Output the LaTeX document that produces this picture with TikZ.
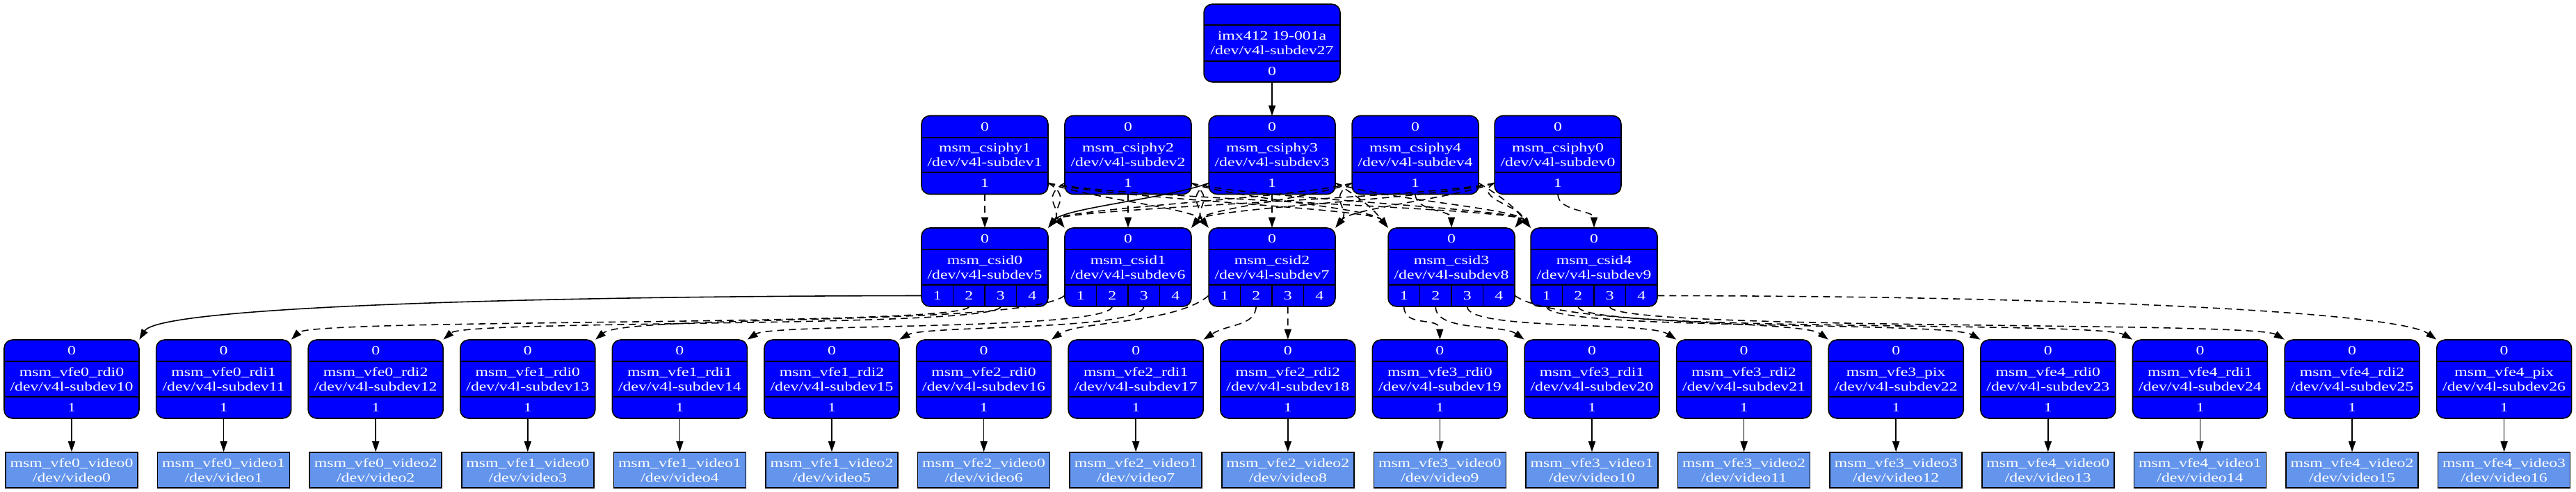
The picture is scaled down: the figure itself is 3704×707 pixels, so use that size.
\documentclass[tikz,border=0pt]{standalone}
\usepackage{fontspec}
\setmainfont{Liberation Serif}[FakeStretch=1.3]
\usetikzlibrary{arrows.meta}
\definecolor{entblue}{HTML}{0000FF}
\definecolor{vidblue}{HTML}{6495ED}
\tikzset{
  ent/.style={draw=black, fill=entblue, rounded corners=0.24cm, line width=0.9pt, text=white, align=center, inner sep=0pt, minimum height=2.26cm},
  vid/.style={draw=black, fill=vidblue, line width=0.9pt, text=white, align=center, inner sep=0pt, minimum width=3.8cm, minimum height=1.02cm},
  port/.style={inner sep=0pt, minimum height=0.62cm, text=white},
  link/.style={line width=0.9pt, -{Triangle[length=0.3cm,width=0.2cm]}},
  dlink/.style={link, dash pattern=on 0.2cm off 0.14cm},
}
\begin{document}
\begin{tikzpicture}[x=0.02cm, y=-0.02cm, font=\fontsize{10.4}{12}\selectfont]
\useasboundingbox (0,0) rectangle (3704,707);
% sensor
\node[ent, minimum width=3.92cm, minimum height=2.24cm] (imx412) at (1829,62) {imx412 19-001a\\/dev/v4l-subdev27};
\node[port, minimum width=3.92cm, minimum height=0.6cm] (imx412-p0) at (1829,103) {0};
\draw[line width=0.9pt] (1731,36) -- (1927,36) (1731,88) -- (1927,88);
% csiphy row
\foreach \n/\x in {1/1416, 2/1622, 3/1829, 4/2035, 0/2240} {
  \node[ent, minimum width=3.64cm] (csiphy\n) at (\x,223) {msm\_csiphy\n\\/dev/v4l-subdev\n};
  \node[port, minimum width=3.64cm] (csiphy\n-p0) at (\x,182.5) {0};
  \node[port, minimum width=3.64cm] (csiphy\n-p1) at (\x,263.5) {1};
  \draw[line width=0.9pt] (\x-91,198) -- (\x+91,198) (\x-91,248) -- (\x+91,248);
}
% csid row
\foreach \n/\x/\d in {0/1416/5, 1/1622/6, 2/1829/7, 3/2087/8, 4/2292/9} {
  \node[ent, minimum width=3.64cm] (csid\n) at (\x,384.5) {msm\_csid\n\\/dev/v4l-subdev\d};
  \node[port, minimum width=3.64cm] (csid\n-p0) at (\x,343.5) {0};
  \foreach \k in {1,...,4}
    \node[port, minimum width=0.91cm] (csid\n-p\k) at (\x-113.75+45.5*\k,425.5) {\k};
  \draw[line width=0.9pt] (\x-91,359) -- (\x+91,359) (\x-91,410) -- (\x+91,410)
    (\x-45.5,410) -- (\x-45.5,441) (\x,410) -- (\x,441) (\x+45.5,410) -- (\x+45.5,441);
}
% vfe lines and video nodes
\foreach \v/\l/\k [count=\i from 0] in {vfe0/rdi0/0, vfe0/rdi1/1, vfe0/rdi2/2, vfe1/rdi0/0, vfe1/rdi1/1, vfe1/rdi2/2, vfe2/rdi0/0, vfe2/rdi1/1, vfe2/rdi2/2, vfe3/rdi0/0, vfe3/rdi1/1, vfe3/rdi2/2, vfe3/pix/3, vfe4/rdi0/0, vfe4/rdi1/1, vfe4/rdi2/2, vfe4/pix/3} {
  \pgfmathsetmacro\x{103+218.6*\i}
  \pgfmathtruncatemacro\d{10+\i}
  \node[ent, minimum width=3.88cm] (\v-\l) at (\x,545.5) {msm\_\v\_\l\\/dev/v4l-subdev\d};
  \node[port, minimum width=3.88cm] (\v-\l-p0) at (\x,504.5) {0};
  \node[port, minimum width=3.88cm] (\v-\l-p1) at (\x,586.5) {1};
  \draw[line width=0.9pt] (\x-97,520) -- (\x+97,520) (\x-97,571) -- (\x+97,571);
  \node[vid] (\v-video\k) at (\x,676.5) {msm\_\v\_video\k\\/dev/video\i};
  \draw[link] (\v-\l-p1) -- (\v-video\k);
}
% sensor to csiphy3
\draw[link] (imx412-p0.south) -- (csiphy3-p0.north);
% csiphy to csid, all disabled but one
\foreach \s/\a in {0/1, 1/2, 2/3, 3/4, 4/0}
  \foreach \t in {0,...,4} {
    \pgfmathtruncatemacro\g{\t-\s}
    \pgfmathtruncatemacro\on{and(\s==2,\t==0)}
    \pgfmathsetmacro\c{15+22*abs(\t-\s)}
    \ifnum\on=0
      \ifnum\g>0
        \draw[dlink] (csiphy\a-p1.east) .. controls +(\c,22) and +(-22,-28) .. (csid\t-p0.north west);
      \else\ifnum\g<0
        \draw[dlink] (csiphy\a-p1.west) .. controls +(-\c,22) and +(22,-28) .. (csid\t-p0.north east);
      \else
        \draw[dlink] (csiphy\a-p1.south) .. controls +(0,25) and +(0,-25) .. (csid\t-p0.north);
      \fi\fi
    \fi
  }
\draw[link] (csiphy3-p1.west) .. controls +(-59,22) and +(22,-28) .. (csid0-p0.north east);
% csid to vfe
\draw[link] (csid0-p1.west) .. controls (800,426) and (230,440) .. (vfe0-rdi0-p0.north east);
\draw[dlink] (csid0-p2.south) .. controls (1385,470) and (450,458) .. (vfe0-rdi1-p0.north east);
\draw[dlink] (csid0-p3.south) .. controls (1432,472) and (670,460) .. (vfe0-rdi2-p0.north east);
\draw[dlink] (csid1-p1.west) .. controls (1470,470) and (900,452) .. (vfe1-rdi0-p0.north east);
\draw[dlink] (csid1-p2.south) .. controls (1590,476) and (1110,465) .. (vfe1-rdi1-p0.north east);
\draw[dlink] (csid1-p3.south) .. controls (1640,476) and (1330,468) .. (vfe1-rdi2-p0.north east);
\draw[dlink] (csid2-p1.west) .. controls (1690,466) and (1550,462) .. (vfe2-rdi0-p0.north east);
\draw[dlink] (csid2-p2.south) .. controls (1804,470) and (1765,466) .. (vfe2-rdi1-p0.north east);
\draw[dlink] (csid2-p3.south) -- (vfe2-rdi2-p0.north);
\draw[dlink] (csid3-p1.south) .. controls (2019,472) and (2070,455) .. (vfe3-rdi0-p0.north);
\draw[dlink] (csid3-p2.south) .. controls (2064,478) and (2160,466) .. (vfe3-rdi1-p0.north west);
\draw[dlink] (csid3-p3.south) .. controls (2110,476) and (2370,462) .. (vfe3-rdi2-p0.north west);
\draw[dlink] (csid3-p4.east) .. controls (2240,470) and (2590,460) .. (vfe3-pix-p0.north west);
\draw[dlink] (csid4-p1.south) .. controls (2226,476) and (2800,462) .. (vfe4-rdi0-p0.north west);
\draw[dlink] (csid4-p2.south) .. controls (2272,478) and (3020,462) .. (vfe4-rdi1-p0.north west);
\draw[dlink] (csid4-p3.south) .. controls (2318,476) and (3240,462) .. (vfe4-rdi2-p0.north west);
\draw[dlink] (csid4-p4.east) .. controls (3000,426) and (3450,450) .. (vfe4-pix-p0.north west);
\end{tikzpicture}
\end{document}
